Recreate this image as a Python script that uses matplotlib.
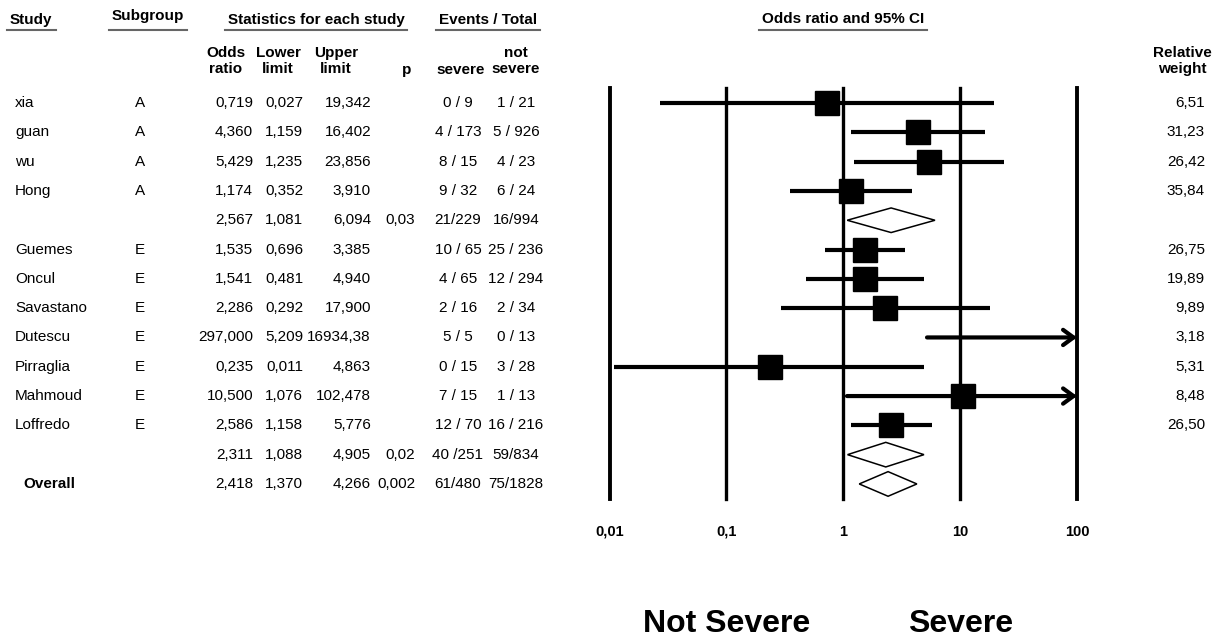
import matplotlib
matplotlib.use("Agg")
import matplotlib.pyplot as plt
import numpy as np
from matplotlib.lines import Line2D
from matplotlib.patches import Polygon
from matplotlib.transforms import blended_transform_factory

plt.rcParams["font.family"] = ["Liberation Sans", "DejaVu Sans"]

# ---------------------------------------------------------------------------
# Data
# ---------------------------------------------------------------------------
study = ["xia", "guan", "wu", "Hong", "", "Guemes", "Oncul", "Savastano",
         "Dutescu", "Pirraglia", "Mahmoud", "Loffredo", "", "Overall"]
subgroup = ["A", "A", "A", "A", "", "E", "E", "E", "E", "E", "E", "E", "", ""]
is_summary = [False, False, False, False, True, False, False, False,
              False, False, False, False, True, True]
odds = [0.719, 4.360, 5.429, 1.174, 2.567, 1.535, 1.541, 2.286,
        297.000, 0.235, 10.500, 2.586, 2.311, 2.418]
lower = [0.027, 1.159, 1.235, 0.352, 1.081, 0.696, 0.481, 0.292,
         5.209, 0.011, 1.076, 1.158, 1.088, 1.370]
upper = [19.342, 16.402, 23.856, 3.910, 6.094, 3.385, 4.940, 17.900,
         16934.38, 4.863, 102.478, 5.776, 4.905, 4.266]
p_vals = ["", "", "", "", "0,03", "", "", "", "", "", "", "", "0,02", "0,002"]
severe = ["0 / 9", "4 / 173", "8 / 15", "9 / 32", "21/229", "10 / 65",
          "4 / 65", "2 / 16", "5 / 5", "0 / 15", "7 / 15", "12 / 70",
          "40 /251", "61/480"]
not_severe = ["1 / 21", "5 / 926", "4 / 23", "6 / 24", "16/994", "25 / 236",
              "12 / 294", "2 / 34", "0 / 13", "3 / 28", "1 / 13", "16 / 216",
              "59/834", "75/1828"]
weights = [6.51, 31.23, 26.42, 35.84, None, 26.75, 19.89, 9.89, 3.18, 5.31,
           8.48, 26.50, None, None]

axis_ticks = [0.01, 0.1, 1, 10, 100]
axis_labels = ["0,01", "0,1", "1", "10", "100"]


def fmt(v):
    """Comma decimal, 3 places (2 for very large values)."""
    s = f"{v:.2f}" if v >= 10000 else f"{v:.3f}"
    return s.replace(".", ",")


# ---------------------------------------------------------------------------
# Layout helpers (figure pixels -> figure fraction)
# ---------------------------------------------------------------------------
W, H = 1221, 640


def fx(px):
    return px / W


def fy(py):
    return 1 - py / H


fig = plt.figure(figsize=(W / 100, H / 100), dpi=100)
ax = fig.add_axes([fx(609.5), fy(498.6), fx(1077) - fx(609.5), (498.6 - 88.4) / H])
ax.set_xscale("log")
ax.set_xlim(0.01, 100)
ax.set_ylim(13.5, -0.5)
for s in ax.spines.values():
    s.set_visible(False)
ax.set_yticks([])
ax.xaxis.set_minor_locator(matplotlib.ticker.NullLocator())
ax.set_xticks(axis_ticks)
ax.set_xticklabels(axis_labels, fontsize=10.5, fontweight="bold")
ax.tick_params(axis="x", length=0, pad=19)

for t in axis_ticks:
    lw = 2.8 if t in (0.01, 100) else 2.4
    ax.axvline(t, color="black", lw=lw, clip_on=False, zorder=1)

rows = np.arange(len(study))

# forest marks
for i in rows:
    if is_summary[i]:
        h = 0.42
        diamond = Polygon([(lower[i], i), (odds[i], i - h), (upper[i], i), (odds[i], i + h)],
                          closed=True, facecolor="white", edgecolor="black", lw=1.1, zorder=3)
        ax.add_patch(diamond)
        continue
    lo = max(lower[i], 0.01)
    if upper[i] > 100:
        ax.annotate("", xy=(100, i), xytext=(lo, i), annotation_clip=False,
                    arrowprops=dict(arrowstyle="->,head_length=0.75,head_width=0.55",
                                    lw=3, color="black", shrinkA=0, shrinkB=0),
                    zorder=2)
    else:
        ax.plot([lo, upper[i]], [i, i], color="black", lw=3, solid_capstyle="butt", zorder=2)
    ax.plot(odds[i], i, marker="s", markersize=17.3, color="black", zorder=4)

# ---------------------------------------------------------------------------
# Table text
# ---------------------------------------------------------------------------
trans = blended_transform_factory(fig.transFigure, ax.transData)
fs = 11
for i in rows:
    if study[i] == "Overall":
        ax.text(fx(23), i, study[i], transform=trans, ha="left", va="center",
                fontsize=fs, fontweight="bold")
    elif study[i]:
        ax.text(fx(15), i, study[i], transform=trans, ha="left", va="center", fontsize=fs)
    ax.text(fx(140), i, subgroup[i], transform=trans, ha="center", va="center", fontsize=fs)
    ax.text(fx(253), i, fmt(odds[i]), transform=trans, ha="right", va="center", fontsize=fs)
    ax.text(fx(303), i, fmt(lower[i]), transform=trans, ha="right", va="center", fontsize=fs)
    ax.text(fx(371), i, fmt(upper[i]), transform=trans, ha="right", va="center", fontsize=fs)
    ax.text(fx(415), i, p_vals[i], transform=trans, ha="right", va="center", fontsize=fs)
    ax.text(fx(458), i, severe[i], transform=trans, ha="center", va="center", fontsize=fs)
    ax.text(fx(516), i, not_severe[i], transform=trans, ha="center", va="center", fontsize=fs)
    if weights[i] is not None:
        ax.text(fx(1205), i, f"{weights[i]:.2f}".replace(".", ","), transform=trans,
                ha="right", va="center", fontsize=fs)

# headers
hdr = dict(fontsize=fs, fontweight="bold", va="center")
underlined = [
    fig.text(fx(10), fy(20), "Study", ha="left", **hdr),
    fig.text(fx(148), fy(16), "Subgroup", ha="center", **hdr),
    fig.text(fx(316), fy(20), "Statistics for each study", ha="center", **hdr),
    fig.text(fx(488), fy(20), "Events / Total", ha="center", **hdr),
    fig.text(fx(843), fy(19), "Odds ratio and 95% CI", ha="center", **hdr),
]
fig.text(fx(226), fy(61), "Odds\nratio", ha="center", linespacing=1.25, **hdr)
fig.text(fx(278), fy(61), "Lower\nlimit", ha="center", linespacing=1.25, **hdr)
fig.text(fx(336), fy(61), "Upper\nlimit", ha="center", linespacing=1.25, **hdr)
fig.text(fx(407), fy(70), "p", ha="center", **hdr)
fig.text(fx(461), fy(70), "severe", ha="center", **hdr)
fig.text(fx(516), fy(61), "not\nsevere", ha="center", linespacing=1.25, **hdr)
fig.text(fx(1182), fy(61), "Relative\nweight", ha="center", linespacing=1.25, **hdr)

# bottom direction labels, centred on 0,1 and 10
bottom = blended_transform_factory(ax.transData, fig.transFigure)
ax.text(0.1, fy(624), "Not Severe", transform=bottom, ha="center", va="center",
        fontsize=23, fontweight="bold")
ax.text(10, fy(624), "Severe", transform=bottom, ha="center", va="center",
        fontsize=23, fontweight="bold")

# underline the group headers (a little wider than the text)
fig.canvas.draw()
inv = fig.transFigure.inverted()
pad = fx(3)
for t in underlined:
    bb = t.get_window_extent().transformed(inv)
    fig.add_artist(Line2D([bb.x0 - pad, bb.x1 + pad], [fy(29.5), fy(29.5)],
                          transform=fig.transFigure, color="#666666", lw=1.5))

fig.savefig("out.png", dpi=100)
